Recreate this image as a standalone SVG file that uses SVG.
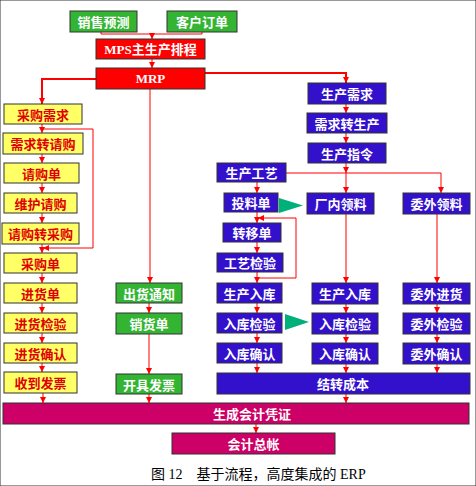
<svg xmlns="http://www.w3.org/2000/svg" width="476" height="486" viewBox="0 0 476 486">
<defs>
<marker id="ah" viewBox="0 0 6 6" refX="6" refY="3" markerWidth="6" markerHeight="6" markerUnits="userSpaceOnUse" orient="auto">
<path d="M0,0 L6,3 L0,6 Z" fill="#f00"/>
</marker>
<style>
rect{stroke:#333;stroke-width:1}
.g rect{fill:#33b533}
.r rect{fill:#f00}
.y rect{fill:#ffff66}
.b rect{fill:#3311cc}
.m rect{fill:#cc0066}
text{font-family:"Noto Sans CJK SC","Liberation Sans",sans-serif;font-size:13px;font-weight:bold;text-anchor:middle;dominant-baseline:central}
.y text{fill:#e00000}
.g text,.r text,.b text,.m text{fill:#fff}
.r text{font-family:"Liberation Serif","Noto Sans CJK SC",serif}
#conn path{fill:none;stroke:#f00;stroke-width:1}
#conn path.a{marker-end:url(#ah)}
#conn path.t{stroke-width:2}
.tri{fill:#00b07a}
.cap{font-family:"Liberation Serif","Noto Sans CJK SC",serif;font-size:14px;font-weight:normal;fill:#000;text-anchor:start;dominant-baseline:auto}
</style>
</defs>
<rect x="0" y="0" width="476" height="486" fill="#fff" stroke="none"/>

<g id="conn">
<path d="M101,32 V34 H202 V32"/>
<path class="a" d="M152,34 V39"/>
<path class="a" d="M152,59 V68"/>
<path class="a t" d="M96,79 H42 V104"/>
<path class="a t" d="M205,73 H346 V83"/>
<path class="a" d="M150,89 V283"/>
<path class="a" d="M42,124 V133"/>
<path class="a" d="M42,154 V163"/>
<path class="a" d="M42,183 V193"/>
<path class="a" d="M42,213 V223"/>
<path class="a" d="M42,244 V253"/>
<path class="a" d="M42,273 V283"/>
<path class="a" d="M42,303 V313"/>
<path class="a" d="M42,333 V343"/>
<path class="a" d="M42,363 V372"/>
<path class="a" d="M43,393 V403"/>
<path class="a" d="M42,129 H93 V248 H43"/>
<path class="a" d="M149,303 V313"/>
<path class="a" d="M149,334 V374"/>
<path class="a" d="M149,394 V403"/>
<path class="a" d="M346,104 V113"/>
<path class="a" d="M346,133 V143"/>
<path class="a" d="M346,163 V173"/>
<path class="a" d="M286,173 H441 V193"/>
<path class="a" d="M346,173 V193"/>
<path class="a" d="M346,214 V283"/>
<path class="a" d="M437,214 V283"/>
<path class="a" d="M346,304 V313"/>
<path class="a" d="M346,334 V343"/>
<path class="a" d="M346,364 V373"/>
<path class="a" d="M437,304 V313"/>
<path class="a" d="M437,334 V343"/>
<path class="a" d="M437,364 V373"/>
<path class="a" d="M257,182 V193"/>
<path class="a" d="M257,212 V223"/>
<path class="a" d="M257,242 V253"/>
<path class="a" d="M257,272 V283"/>
<path class="a" d="M257,303 V313"/>
<path class="a" d="M257,333 V343"/>
<path class="a" d="M257,363 V373"/>
<path class="a" d="M257,278 H296 V218 H258"/>
<path class="a" d="M346,394 V403"/>
<path class="a" d="M256,424 V433"/>
<polygon class="tri" points="279,198 303,205.5 279,213"/>
<polygon class="tri" points="285,314 309,322 285,330"/>
</g>

<g id="n-xsyc" class="g"><rect x="70" y="11" width="67" height="21"/><text x="103.5" y="21.5">销售预测</text></g>
<g id="n-khdd" class="g"><rect x="167" y="11" width="70" height="21"/><text x="202" y="21.5">客户订单</text></g>
<g id="n-mps" class="r"><rect x="96" y="39" width="109" height="20"/><text x="150.5" y="49">MPS主生产排程</text></g>
<g id="n-mrp" class="r"><rect x="96" y="68" width="109" height="21"/><text x="150.5" y="78.5">MRP</text></g>

<g id="n-cgxq" class="y"><rect x="4" y="104" width="78" height="20"/><text x="43" y="114">采购需求</text></g>
<g id="n-xqzqg" class="y"><rect x="3" y="133" width="80" height="21"/><text x="43" y="143.5">需求转请购</text></g>
<g id="n-qgd" class="y"><rect x="4" y="163" width="75" height="20"/><text x="41.5" y="173">请购单</text></g>
<g id="n-whqg" class="y"><rect x="4" y="193" width="73" height="20"/><text x="40.5" y="203">维护请购</text></g>
<g id="n-qgzcg" class="y"><rect x="2" y="223" width="77" height="21"/><text x="40.5" y="233.5">请购转采购</text></g>
<g id="n-cgd" class="y"><rect x="4" y="253" width="73" height="20"/><text x="40.5" y="263">采购单</text></g>
<g id="n-jhd" class="y"><rect x="4" y="283" width="73" height="20"/><text x="40.5" y="293">进货单</text></g>
<g id="n-jhjy" class="y"><rect x="4" y="313" width="73" height="20"/><text x="40.5" y="323">进货检验</text></g>
<g id="n-jhqr" class="y"><rect x="4" y="343" width="73" height="20"/><text x="40.5" y="353">进货确认</text></g>
<g id="n-sdfp" class="y"><rect x="4" y="372" width="73" height="21"/><text x="40.5" y="382.5">收到发票</text></g>

<g id="n-chtz" class="g"><rect x="116" y="283" width="66" height="20"/><text x="149" y="293">出货通知</text></g>
<g id="n-xhd" class="g"><rect x="116" y="313" width="66" height="21"/><text x="149" y="323.5">销货单</text></g>
<g id="n-kjfp" class="g"><rect x="116" y="374" width="66" height="20"/><text x="149" y="384">开具发票</text></g>

<g id="n-scxq" class="b"><rect x="308" y="83" width="78" height="21"/><text x="347" y="93.5">生产需求</text></g>
<g id="n-xqzsc" class="b"><rect x="307" y="113" width="80" height="20"/><text x="347" y="123">需求转生产</text></g>
<g id="n-sczl" class="b"><rect x="308" y="143" width="78" height="20"/><text x="347" y="153">生产指令</text></g>
<g id="n-scgy" class="b"><rect x="217" y="163" width="69" height="19"/><text x="251.5" y="172.5">生产工艺</text></g>
<g id="n-tld" class="b"><rect x="224" y="193" width="54" height="19"/><text x="251" y="202.5">投料单</text></g>
<g id="n-cnll" class="b"><rect x="307" y="193" width="67" height="21"/><text x="340.5" y="203.5">厂内领料</text></g>
<g id="n-wwll" class="b"><rect x="403" y="193" width="67" height="21"/><text x="436.5" y="203.5">委外领料</text></g>
<g id="n-zyd" class="b"><rect x="223" y="223" width="58" height="19"/><text x="252" y="232.5">转移单</text></g>
<g id="n-gyjy" class="b"><rect x="217" y="253" width="66" height="19"/><text x="250" y="262.5">工艺检验</text></g>
<g id="n-scrk1" class="b"><rect x="217" y="283" width="65" height="20"/><text x="249.5" y="293">生产入库</text></g>
<g id="n-scrk2" class="b"><rect x="312" y="283" width="66" height="21"/><text x="345" y="293.5">生产入库</text></g>
<g id="n-wwjh" class="b"><rect x="403" y="283" width="67" height="21"/><text x="436.5" y="293.5">委外进货</text></g>
<g id="n-rkjy1" class="b"><rect x="217" y="313" width="65" height="20"/><text x="249.5" y="323">入库检验</text></g>
<g id="n-rkjy2" class="b"><rect x="312" y="313" width="66" height="21"/><text x="345" y="323.5">入库检验</text></g>
<g id="n-wwjy" class="b"><rect x="403" y="313" width="67" height="21"/><text x="436.5" y="323.5">委外检验</text></g>
<g id="n-rkqr1" class="b"><rect x="217" y="343" width="65" height="20"/><text x="249.5" y="353">入库确认</text></g>
<g id="n-rkqr2" class="b"><rect x="312" y="343" width="66" height="21"/><text x="345" y="353.5">入库确认</text></g>
<g id="n-wwqr" class="b"><rect x="403" y="343" width="67" height="21"/><text x="436.5" y="353.5">委外确认</text></g>
<g id="n-jzcb" class="b"><rect x="217" y="373" width="253" height="21"/><text x="343" y="383.5">结转成本</text></g>

<g id="n-sckjpz" class="m"><rect x="3" y="403" width="466" height="21"/><text x="252" y="413.5">生成会计凭证</text></g>
<g id="n-kjzz" class="m"><rect x="172" y="433" width="163" height="21"/><text x="253.5" y="443.5">会计总帐</text></g>

<text class="cap" x="151" y="479">图 12　基于流程，高度集成的 ERP</text>
</svg>
